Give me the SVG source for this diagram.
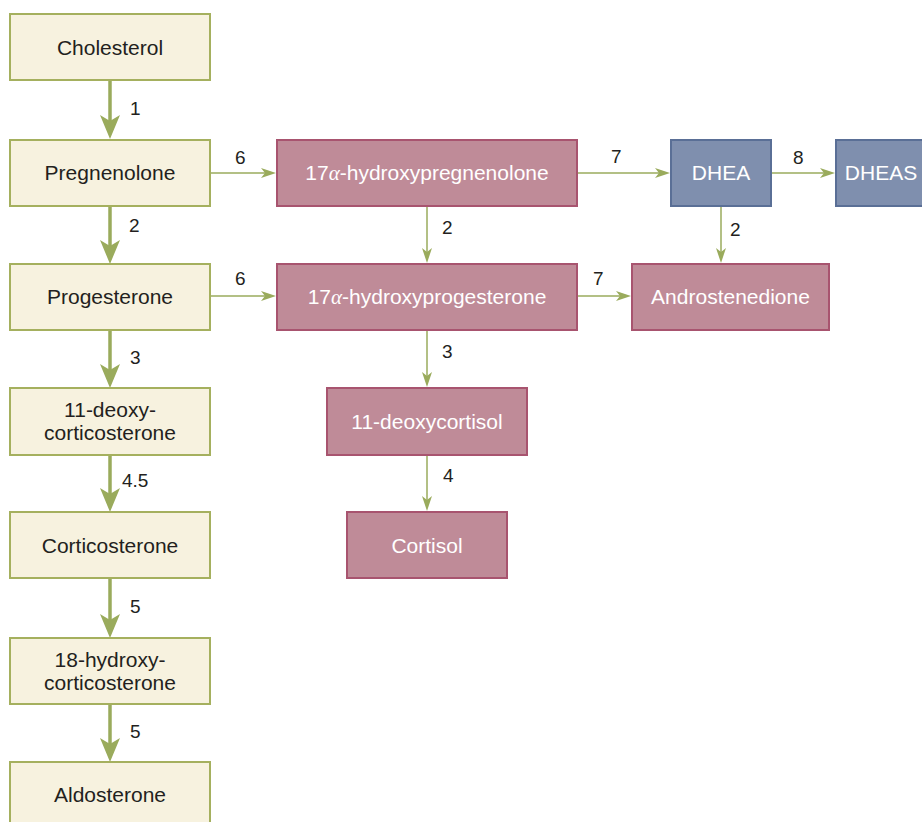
<svg xmlns="http://www.w3.org/2000/svg" width="922" height="822" viewBox="0 0 922 822">
<style>
  .cream rect { fill: #f7f2df; stroke: #a5b05e; stroke-width: 2; }
  .pink rect { fill: #bf8b98; stroke: #a8546f; stroke-width: 2; }
  .blue rect { fill: #7f8fae; stroke: #5a6f96; stroke-width: 2; }
  text { font-family: "Liberation Sans", Arial, sans-serif; font-size: 21px; text-anchor: middle; }
  .cream text { fill: #231f20; }
  .pink text, .blue text { fill: #ffffff; }
  .alpha { font-family: "Liberation Serif", "Times New Roman", serif; font-style: italic; }
  .thick { stroke: #9aab5c; stroke-width: 3.5; fill: none; marker-end: url(#headBig); }
  .thin { stroke: #9aab5c; stroke-width: 1.5; fill: none; marker-end: url(#headSmall); }
  .lbl { font-size: 19px; fill: #231f20; text-anchor: start; }
</style>
<defs>
  <marker id="headBig" markerUnits="userSpaceOnUse" markerWidth="24" markerHeight="20" refX="19" refY="10" orient="auto" overflow="visible">
    <path d="M0,0 L24,10 L0,20 L6,10 Z" fill="#9aab5c"/>
  </marker>
  <marker id="headSmall" markerUnits="userSpaceOnUse" markerWidth="15" markerHeight="10" refX="12" refY="5" orient="auto" overflow="visible">
    <path d="M0,0 L15,5 L0,10 L4,5 Z" fill="#9aab5c"/>
  </marker>
</defs>

<g id="connectors">
  <line class="thick" x1="110" y1="81" x2="110" y2="134"/>
  <line class="thick" x1="110" y1="207" x2="110" y2="259"/>
  <line class="thick" x1="110" y1="331" x2="110" y2="383"/>
  <line class="thick" x1="110" y1="455" x2="110" y2="507"/>
  <line class="thick" x1="110" y1="579" x2="110" y2="633"/>
  <line class="thick" x1="110" y1="705" x2="110" y2="757"/>
  <line class="thin" x1="211" y1="173" x2="273" y2="173"/>
  <line class="thin" x1="211" y1="296" x2="273" y2="296"/>
  <line class="thin" x1="578" y1="173" x2="667" y2="173"/>
  <line class="thin" x1="772" y1="173" x2="832" y2="173"/>
  <line class="thin" x1="578" y1="296" x2="628" y2="296"/>
  <line class="thin" x1="427" y1="207" x2="427" y2="260"/>
  <line class="thin" x1="721" y1="207" x2="721" y2="260"/>
  <line class="thin" x1="427" y1="331" x2="427" y2="384"/>
  <line class="thin" x1="427" y1="456" x2="427" y2="508"/>
  <text class="lbl" x="130" y="115">1</text>
  <text class="lbl" x="129" y="232">2</text>
  <text class="lbl" x="130" y="364">3</text>
  <text class="lbl" x="122" y="487">4.5</text>
  <text class="lbl" x="130" y="613">5</text>
  <text class="lbl" x="130" y="738">5</text>
  <text class="lbl" x="235" y="164">6</text>
  <text class="lbl" x="235" y="285">6</text>
  <text class="lbl" x="442" y="234">2</text>
  <text class="lbl" x="611" y="163">7</text>
  <text class="lbl" x="793" y="164">8</text>
  <text class="lbl" x="730" y="236">2</text>
  <text class="lbl" x="593" y="285">7</text>
  <text class="lbl" x="442" y="358">3</text>
  <text class="lbl" x="443" y="482">4</text>
</g>

<g id="cholesterol" class="cream"><rect x="10" y="14" width="200" height="66"/><text x="110" y="55">Cholesterol</text></g>
<g id="pregnenolone" class="cream"><rect x="10" y="140" width="200" height="66"/><text x="110" y="180">Pregnenolone</text></g>
<g id="progesterone" class="cream"><rect x="10" y="264" width="200" height="66"/><text x="110" y="304">Progesterone</text></g>
<g id="deoxycorticosterone" class="cream"><rect x="10" y="388" width="200" height="67"/><text x="110" y="417">11-deoxy-</text><text x="110" y="440">corticosterone</text></g>
<g id="corticosterone" class="cream"><rect x="10" y="512" width="200" height="66"/><text x="110" y="553">Corticosterone</text></g>
<g id="hydroxycorticosterone" class="cream"><rect x="10" y="638" width="200" height="66"/><text x="110" y="667">18-hydroxy-</text><text x="110" y="690">corticosterone</text></g>
<g id="aldosterone" class="cream"><rect x="10" y="762" width="200" height="66"/><text x="110" y="802">Aldosterone</text></g>

<g id="hydroxypregnenolone" class="pink"><rect x="277" y="140" width="300" height="66"/><text x="427" y="180">17<tspan class="alpha">α</tspan>-hydroxypregnenolone</text></g>
<g id="hydroxyprogesterone" class="pink"><rect x="277" y="264" width="300" height="66"/><text x="427" y="304">17<tspan class="alpha">α</tspan>-hydroxyprogesterone</text></g>
<g id="deoxycortisol" class="pink"><rect x="327" y="388" width="200" height="67"/><text x="427" y="429">11-deoxycortisol</text></g>
<g id="cortisol" class="pink"><rect x="347" y="512" width="160" height="66"/><text x="427" y="553">Cortisol</text></g>
<g id="androstenedione" class="pink"><rect x="632" y="264" width="197" height="66"/><text x="730.5" y="304">Androstenedione</text></g>

<g id="dhea" class="blue"><rect x="671" y="140" width="100" height="66"/><text x="721" y="180">DHEA</text></g>
<g id="dheas" class="blue"><rect x="836" y="140" width="100" height="66"/><text x="881" y="180">DHEAS</text></g>
</svg>
